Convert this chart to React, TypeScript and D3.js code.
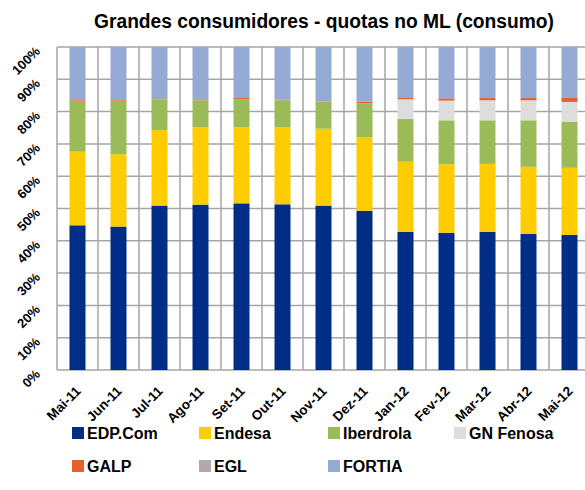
import React, { useEffect, useRef } from 'react';
import * as d3 from 'd3';

const months = ['Mai-11', 'Jun-11', 'Jul-11', 'Ago-11', 'Set-11', 'Out-11', 'Nov-11', 'Dez-11', 'Jan-12', 'Fev-12', 'Mar-12', 'Abr-12', 'Mai-12'];
const seriesNames = ['EDP.Com', 'Endesa', 'Iberdrola', 'GN Fenosa', 'GALP', 'EGL', 'FORTIA'];
const seriesColors = ['#002d86', '#ffcc00', '#9bbb59', '#dddddd', '#e6612a', '#b3a9a9', '#95abd3'];

// quotas (%) por mês
const edp = [44.8, 44.4, 50.9, 51.2, 51.6, 51.3, 50.9, 49.3, 42.8, 42.5, 42.8, 42.1, 41.8];
const endesa = [22.8, 22.4, 23.4, 23.9, 23.5, 23.8, 23.8, 22.8, 21.7, 21.2, 21.0, 20.8, 20.8];
const iberdrola = [15.8, 16.6, 9.5, 8.4, 8.7, 8.4, 8.4, 10.5, 13.2, 13.6, 13.5, 14.4, 14.3];
const gnFenosa = [0, 0, 0, 0, 0, 0, 0, 0, 6.1, 6.1, 6.2, 6.2, 6.1];
const galp = [0.2, 0.2, 0.1, 0.3, 0.4, 0.2, 0.1, 0.5, 0.4, 0.7, 0.7, 0.7, 1.2];
const egl = [0, 0, 0, 0, 0, 0, 0, 0, 0, 0, 0, 0, 0];
const fortia = [16.4, 16.4, 16.1, 16.2, 15.8, 16.3, 16.8, 16.9, 15.8, 15.9, 15.8, 15.8, 15.8];

const yTicks = [0, 10, 20, 30, 40, 50, 60, 70, 80, 90, 100];

const App = () => {
  const svgRef = useRef<SVGSVGElement>(null);

  useEffect(() => {
    if (!svgRef.current) return;
    const svg = d3.select(svgRef.current);
    svg.selectAll('*').remove();

    const font = 'Liberation Sans, Arial, sans-serif';
    const margin = { top: 47, left: 57 };
    const innerWidth = 533;
    const innerHeight = 323;

    const columns = [edp, endesa, iberdrola, gnFenosa, galp, egl, fortia];
    const rows = months.map((m, i) => {
      const r: Record<string, any> = { month: m };
      seriesNames.forEach((s, j) => { r[s] = columns[j][i]; });
      return r;
    });

    const stack = d3.stack<any>().keys(seriesNames).offset(d3.stackOffsetExpand);
    const layers = stack(rows);

    const x = d3.scaleBand().domain(months).range([0, innerWidth]);
    const y = d3.scaleLinear().domain([0, 1]).range([innerHeight, 0]);
    const barW = 16;

    // título
    svg.append('text')
      .attr('x', 324)
      .attr('y', 28)
      .attr('text-anchor', 'middle')
      .attr('font-family', font)
      .attr('font-weight', 'bold')
      .attr('font-size', 20)
      .attr('textLength', 460)
      .attr('lengthAdjust', 'spacingAndGlyphs')
      .attr('fill', '#000')
      .text('Grandes consumidores - quotas no ML (consumo)');

    const g = svg.append('g').attr('transform', `translate(${margin.left},${margin.top})`);

    // grelha
    g.selectAll('.hgrid')
      .data(yTicks)
      .enter()
      .append('line')
      .attr('x1', 0)
      .attr('x2', innerWidth)
      .attr('y1', d => y(d / 100))
      .attr('y2', d => y(d / 100))
      .attr('stroke', '#a6a6a6')
      .attr('stroke-width', 1.5);

    g.selectAll('.vgrid')
      .data(d3.range(months.length + 1))
      .enter()
      .append('line')
      .attr('x1', i => i * x.step())
      .attr('x2', i => i * x.step())
      .attr('y1', 0)
      .attr('y2', innerHeight)
      .attr('stroke', '#a6a6a6')
      .attr('stroke-width', 1.5);

    // barras empilhadas
    g.selectAll('.layer')
      .data(layers)
      .enter()
      .append('g')
      .attr('fill', (_d, i) => seriesColors[i])
      .selectAll('rect')
      .data(d => d)
      .enter()
      .append('rect')
      .attr('x', d => (x(d.data.month) || 0) + (x.bandwidth() - barW) / 2)
      .attr('width', barW)
      .attr('y', d => y(d[1]))
      .attr('height', d => Math.max(0, y(d[0]) - y(d[1])));

    // eixo Y
    g.selectAll('.ylab')
      .data(yTicks)
      .enter()
      .append('text')
      .attr('transform', d => `translate(${-16},${y(d / 100) + 5}) rotate(-45)`)
      .attr('text-anchor', 'end')
      .attr('font-family', font)
      .attr('font-weight', 'bold')
      .attr('font-size', 13)
      .text(d => `${d}%`);

    // eixo X
    g.selectAll('.xlab')
      .data(months)
      .enter()
      .append('text')
      .attr('transform', d => `translate(${(x(d) || 0) + x.bandwidth() / 2 + 4},${innerHeight + 22}) rotate(-45)`)
      .attr('text-anchor', 'end')
      .attr('font-family', font)
      .attr('font-weight', 'bold')
      .attr('font-size', 13.5)
      .text(d => d);

    // legenda
    const legX = [72, 199, 328, 454];
    const legend = svg.selectAll('.leg')
      .data(seriesNames)
      .enter()
      .append('g')
      .attr('transform', (_d, i) => `translate(${legX[i % 4]},${i < 4 ? 427 : 460})`);
    legend.append('rect')
      .attr('width', 12)
      .attr('height', 12)
      .attr('fill', (_d, i) => seriesColors[i]);
    legend.append('text')
      .attr('x', 15)
      .attr('y', 12)
      .attr('font-family', font)
      .attr('font-weight', 'bold')
      .attr('font-size', 16)
      .text(d => d);
  }, []);

  return (
    <svg
      ref={svgRef}
      width={585}
      height={490}
      style={{ position: 'fixed', left: 0, top: 0, background: '#fff', display: 'block' }}
    />
  );
};

export default App;
